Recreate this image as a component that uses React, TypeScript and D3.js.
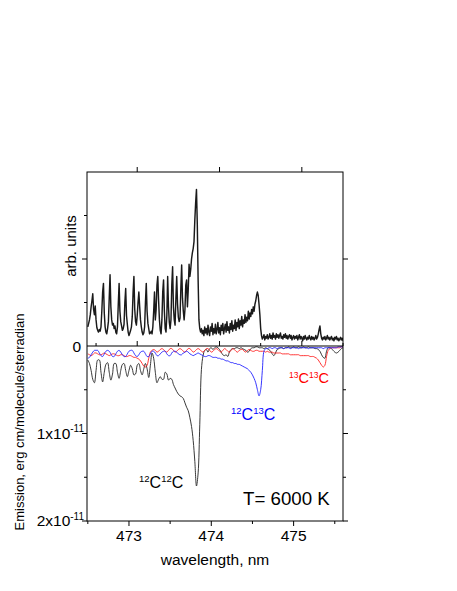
import React from "react";
import * as d3 from "d3";

// ---------- DATA ----------
// Top panel: experimental spectrum (arb. units), top-panel wavelength scale
const topStart = 472.4;
const topStep = 0.01;
const topValues = [
  0.22,0.26,0.30,0.36,0.45,0.52,0.60,0.42,0.36,0.46,
  0.30,0.21,0.18,0.16,0.19,0.17,0.22,0.40,0.62,0.72,
  0.38,0.22,0.16,0.14,0.20,0.28,0.55,0.82,0.45,0.30,
  0.24,0.26,0.20,0.23,0.16,0.14,0.22,0.48,0.72,0.40,
  0.28,0.23,0.18,0.20,0.25,0.50,0.66,0.35,0.25,0.16,
  0.12,0.15,0.18,0.22,0.34,0.62,0.80,0.42,0.28,0.24,
  0.35,0.50,0.62,0.45,0.30,0.22,0.16,0.13,0.15,0.22,
  0.50,0.72,0.40,0.26,0.20,0.14,0.15,0.17,0.14,0.22,
  0.40,0.62,0.30,0.42,0.70,0.80,0.52,0.30,0.18,0.14,
  0.30,0.62,0.76,0.40,0.20,0.16,0.35,0.80,0.45,0.27,
  0.20,0.30,0.70,0.91,0.45,0.30,0.24,0.55,0.80,0.48,
  0.33,0.28,0.32,0.66,0.93,0.55,0.40,0.30,0.42,0.70,
  0.76,0.45,0.65,0.94,0.80,0.88,1.00,1.07,1.12,1.20,
  1.45,1.65,1.80,1.40,0.76,0.30,0.20,0.16,0.20,0.14,
  0.18,0.12,0.22,0.15,0.20,0.13,0.24,0.16,0.12,0.22,
  0.17,0.26,0.13,0.20,0.15,0.25,0.14,0.19,0.27,0.15,
  0.21,0.13,0.24,0.18,0.26,0.14,0.20,0.25,0.16,0.28,
  0.18,0.22,0.15,0.26,0.19,0.29,0.17,0.24,0.20,0.30,
  0.18,0.27,0.22,0.31,0.20,0.29,0.24,0.34,0.22,0.30,
  0.26,0.36,0.27,0.33,0.29,0.40,0.31,0.38,0.34,0.42,
  0.37,0.45,0.40,0.48,0.52,0.58,0.62,0.58,0.48,0.36,
  0.20,0.12,0.08,0.10,0.13,0.07,0.11,0.09,0.13,0.08,
  0.10,0.14,0.09,0.12,0.08,0.15,0.10,0.12,0.08,0.14,
  0.10,0.13,0.09,0.12,0.15,0.09,0.11,0.08,0.13,0.10,
  0.14,0.09,0.12,0.08,0.11,0.13,0.09,0.12,0.07,0.10,
  0.12,0.08,0.11,0.09,0.12,0.07,0.10,0.13,0.08,0.11,
  0.09,0.06,0.11,0.08,0.12,0.09,0.07,0.10,0.08,0.12,
  0.09,0.07,0.11,0.08,0.10,0.07,0.09,0.12,0.08,0.10,
  0.14,0.19,0.23,0.14,0.09,0.07,0.10,0.08,0.11,0.07,
  0.09,0.12,0.08,0.10,0.07,0.09,0.11,0.07,0.09,0.06,
  0.10,0.08,0.11,0.07,0.09,0.06,0.08,0.10,0.07,0.09,
  0.06,
];

// Bottom panel: computed emission, units of 1e-11 erg cm/molecule/sterradian
const botStart = 472.5;
const botStep = 0.02;
const c12c12 = [
  0.16,0.20,0.28,0.38,0.42,0.28,0.16,0.16,0.30,0.41,
  0.30,0.21,0.19,0.30,0.39,0.32,0.20,0.20,0.30,0.37,
  0.28,0.21,0.20,0.28,0.35,0.28,0.22,0.26,0.33,0.32,
  0.22,0.20,0.28,0.33,0.26,0.20,0.26,0.36,0.22,0.08,
  0.14,0.30,0.42,0.38,0.35,0.38,0.38,0.30,0.32,0.39,
  0.37,0.38,0.44,0.48,0.52,0.55,0.57,0.58,0.60,0.65,
  0.70,0.74,0.82,0.92,1.08,1.32,1.60,1.45,0.90,0.27,
  0.11,0.05,0.04,0.07,0.03,0.02,0.04,0.02,0.01,0.02,
  0.04,0.07,0.10,0.11,0.10,0.12,0.07,0.04,0.03,0.03,
  0.02,0.02,0.03,0.02,0.03,0.04,0.05,0.07,0.06,0.03,
  0.02,0.02,0.01,0.01,0.02,0.02,0.02,0.03,0.02,0.03,
  0.04,0.06,0.09,0.11,0.08,0.04,0.03,0.02,0.02,0.03,
  0.02,0.02,0.01,0.02,0.02,0.01,0.02,0.02,0.01,0.02,
  0.02,0.01,0.02,0.02,0.01,0.02,0.02,0.02,0.03,0.03,
  0.04,0.06,0.10,0.13,0.14,0.06,0.02,0.02,0.03,0.05,
  0.07,0.08,0.07,0.05,0.03,0.02,
];
const c12c13 = [
  0.14,0.13,0.10,0.07,0.05,0.05,0.05,0.08,0.11,0.12,
  0.09,0.06,0.05,0.06,0.09,0.12,0.12,0.09,0.06,0.05,
  0.07,0.10,0.12,0.12,0.09,0.06,0.05,0.05,0.08,0.11,
  0.12,0.10,0.07,0.06,0.06,0.09,0.12,0.12,0.09,0.06,
  0.06,0.08,0.11,0.11,0.09,0.07,0.06,0.06,0.09,0.11,
  0.11,0.08,0.06,0.06,0.07,0.09,0.10,0.10,0.08,0.07,
  0.06,0.07,0.09,0.10,0.11,0.10,0.09,0.08,0.09,0.10,
  0.11,0.12,0.12,0.11,0.11,0.12,0.13,0.13,0.13,0.14,
  0.14,0.15,0.15,0.16,0.17,0.17,0.18,0.19,0.19,0.20,
  0.20,0.21,0.21,0.22,0.23,0.24,0.25,0.26,0.28,0.30,
  0.33,0.37,0.42,0.50,0.57,0.50,0.28,0.06,0.03,0.03,
  0.02,0.02,0.03,0.02,0.02,0.03,0.02,0.02,0.02,0.03,
  0.02,0.02,0.02,0.03,0.02,0.02,0.02,0.02,0.03,0.02,
  0.02,0.02,0.02,0.02,0.03,0.02,0.02,0.02,0.02,0.02,
  0.02,0.02,0.02,0.03,0.02,0.02,0.02,0.02,0.02,0.02,
  0.02,0.02,0.01,0.01,0.01,0.01,
];
const c13c13 = [
  0.09,0.10,0.11,0.10,0.08,0.08,0.09,0.10,0.10,0.09,
  0.08,0.09,0.10,0.11,0.10,0.09,0.09,0.10,0.11,0.11,
  0.10,0.10,0.11,0.12,0.12,0.11,0.11,0.12,0.13,0.13,
  0.14,0.15,0.17,0.20,0.23,0.24,0.22,0.14,0.07,0.05,
  0.04,0.05,0.07,0.06,0.04,0.03,0.04,0.06,0.07,0.05,
  0.03,0.03,0.05,0.07,0.06,0.04,0.03,0.04,0.06,0.07,
  0.05,0.03,0.03,0.05,0.07,0.06,0.04,0.03,0.04,0.06,
  0.07,0.05,0.03,0.03,0.05,0.07,0.06,0.04,0.03,0.04,
  0.06,0.07,0.05,0.03,0.04,0.06,0.07,0.05,0.03,0.04,
  0.06,0.07,0.05,0.04,0.04,0.06,0.07,0.05,0.04,0.05,
  0.06,0.06,0.05,0.05,0.06,0.06,0.06,0.06,0.07,0.06,
  0.07,0.07,0.07,0.08,0.08,0.08,0.08,0.08,0.09,0.09,
  0.09,0.09,0.09,0.10,0.10,0.10,0.10,0.10,0.10,0.11,
  0.11,0.11,0.11,0.11,0.11,0.12,0.12,0.12,0.13,0.14,
  0.16,0.19,0.22,0.24,0.22,0.12,0.05,0.03,0.02,0.02,
  0.02,0.02,0.02,0.02,0.01,0.01,
];

const xMajorTicks = [473, 474, 475];
const xMinorTicks = [472.5, 473.5, 474.5, 475.5];
const topYMajor = [1];
const topYMinor = [0.5, 1.5];
const botYMajor = [1, 2];
const botYMinor = [0.5, 1.5];

const FONT = "'Liberation Sans', Arial, Helvetica, sans-serif";

export default function App() {
  const L = 87, R = 343, T = 172, Z = 346, B = 521;
  const x = d3.scaleLinear().domain([472.49, 475.6]).range([L, R]);
  const xTop = d3.scaleLinear().domain([472.39, 475.5]).range([L, R]);
  const yTop = d3.scaleLinear().domain([0, 2]).range([Z, T]);
  const yBot = d3.scaleLinear().domain([0, 2]).range([Z, B]);

  const topPts: [number, number][] = topValues.map((v, i) => [topStart + i * topStep, v]);
  const topLine = d3
    .line<[number, number]>()
    .x((d) => xTop(d[0]))
    .y((d) => yTop(d[1]));
  const botLine = d3
    .line<number>()
    .x((_, i) => x(botStart + i * botStep))
    .y((d) => yBot(d))
    .curve(d3.curveCatmullRom.alpha(0.5));

  const MAJ = 5, MIN = 3;
  const tickStroke = { stroke: "#000", strokeWidth: 1 };

  return (
    <svg
      width={457}
      height={591}
      style={{ position: "absolute", left: 0, top: 0, background: "#fff" }}
      fontFamily={FONT}
    >
      <defs>
        <clipPath id="topClip">
          <rect x={L} y={T} width={R - L} height={Z - T} />
        </clipPath>
        <clipPath id="botClip">
          <rect x={L} y={Z} width={R - L} height={B - Z} />
        </clipPath>
      </defs>

      {/* data */}
      <g clipPath="url(#topClip)">
        <path d={topLine(topPts) || ""} fill="none" stroke="#1a1a1a" strokeWidth={1.45} strokeLinejoin="round" />
      </g>
      <g clipPath="url(#botClip)">
        <path d={botLine(c12c12) || ""} fill="none" stroke="#222" strokeWidth={0.9} />
        <path d={botLine(c13c13) || ""} fill="none" stroke="#ff2020" strokeWidth={0.9} />
        <path d={botLine(c12c13) || ""} fill="none" stroke="#2020ff" strokeWidth={0.9} />
      </g>

      {/* frame */}
      <rect x={L} y={T} width={R - L} height={B - T} fill="none" stroke="#000" strokeWidth={1} />
      <line x1={L} x2={R} y1={Z} y2={Z} stroke="#000" strokeWidth={1.2} />

      {/* top panel ticks */}
      {xMajorTicks.map((t) => (
        <g key={"tt" + t}>
          <line x1={xTop(t)} x2={xTop(t)} y1={T} y2={T - MAJ} {...tickStroke} />
          <line x1={xTop(t)} x2={xTop(t)} y1={Z} y2={Z - MAJ} {...tickStroke} />
        </g>
      ))}
      {xMinorTicks.map((t) => (
        <line key={"tz" + t} x1={xTop(t)} x2={xTop(t)} y1={Z} y2={Z - MIN} {...tickStroke} />
      ))}
      {topYMajor.map((t) => (
        <g key={"ty" + t}>
          <line x1={L} x2={L - MAJ} y1={yTop(t)} y2={yTop(t)} {...tickStroke} />
          <line x1={R} x2={R + MAJ} y1={yTop(t)} y2={yTop(t)} {...tickStroke} />
        </g>
      ))}
      {topYMinor.map((t) => (
        <line key={"tym" + t} x1={L} x2={L - MIN} y1={yTop(t)} y2={yTop(t)} {...tickStroke} />
      ))}

      {/* bottom panel ticks */}
      {xMajorTicks.map((t) => (
        <g key={"bx" + t}>
          <line x1={x(t)} x2={x(t)} y1={B} y2={B + MAJ} {...tickStroke} />
          <text x={x(t)} y={541} textAnchor="middle" fontSize={15.5} fill="#000">
            {t}
          </text>
        </g>
      ))}
      {xMinorTicks.map((t) => (
        <line key={"bxm" + t} x1={x(t)} x2={x(t)} y1={B} y2={B + MIN} {...tickStroke} />
      ))}
      {botYMajor.map((t) => (
        <g key={"by" + t}>
          <line x1={L} x2={L - MAJ} y1={yBot(t)} y2={yBot(t)} {...tickStroke} />
          <line x1={R} x2={R + MAJ} y1={yBot(t)} y2={yBot(t)} {...tickStroke} />
          <text x={84} y={yBot(t) + 5} textAnchor="end" fontSize={15.5} fill="#000">
            {t}x10
            <tspan fontSize={10} dy={-6.5}>-11</tspan>
          </text>
        </g>
      ))}
      {botYMinor.map((t) => (
        <g key={"bym" + t}>
          <line x1={L} x2={L - MIN} y1={yBot(t)} y2={yBot(t)} {...tickStroke} />
          <line x1={R} x2={R + MIN} y1={yBot(t)} y2={yBot(t)} {...tickStroke} />
        </g>
      ))}
      <text x={81} y={Z + 5.5} textAnchor="end" fontSize={15.5} fill="#000">
        0
      </text>

      {/* axis titles */}
      <text transform={`translate(76,246) rotate(-90)`} textAnchor="middle" fontSize={15} fill="#000">
        arb. units
      </text>
      <text transform={`translate(24,422) rotate(-90)`} textAnchor="middle" fontSize={13} fill="#000">
        Emission, erg cm/molecule/sterradian
      </text>
      <text x={(L + R) / 2} y={565} textAnchor="middle" fontSize={15.5} fill="#000">
        wavelength, nm
      </text>

      {/* species labels */}
      <text x={139} y={488} fontSize={16} fill="#000">
        <tspan fontSize={9.5} dy={-6}>12</tspan>
        <tspan dy={6}>C</tspan>
        <tspan fontSize={9.5} dy={-6}>12</tspan>
        <tspan dy={6}>C</tspan>
      </text>
      <text x={231} y={420} fontSize={16} fill="#0000ff">
        <tspan fontSize={9.5} dy={-6}>12</tspan>
        <tspan dy={6}>C</tspan>
        <tspan fontSize={9.5} dy={-6}>13</tspan>
        <tspan dy={6}>C</tspan>
      </text>
      <text x={289} y={383} fontSize={14.5} fill="#ff0000">
        <tspan fontSize={8.5} dy={-5.5}>13</tspan>
        <tspan dy={5.5}>C</tspan>
        <tspan fontSize={8.5} dy={-5.5}>13</tspan>
        <tspan dy={5.5}>C</tspan>
      </text>
      <text x={243} y={505} fontSize={18.7} fill="#000">
        T= 6000 K
      </text>
    </svg>
  );
}
